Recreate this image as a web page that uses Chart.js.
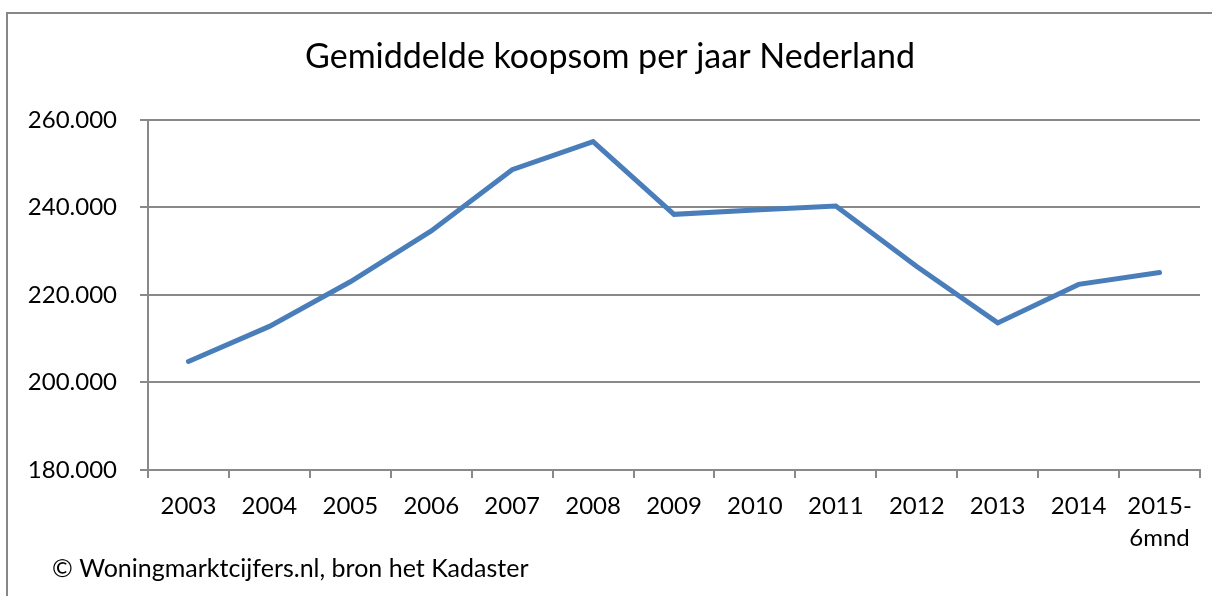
<!DOCTYPE html>
<html>
<head>
<meta charset="utf-8">
<script src="https://cdn.jsdelivr.net/npm/chart.js@4/dist/chart.umd.min.js"></script>
<style>
html,body{margin:0;padding:0;background:#fff;overflow:hidden;}
#wrap{position:absolute;left:0;top:0;width:1212px;height:596px;}
</style>
</head>
<body>
<div id="wrap"><canvas id="c" width="1212" height="596"></canvas></div>
<script>
const categories = ['2003','2004','2005','2006','2007','2008','2009','2010','2011','2012','2013','2014',['2015-','6mnd']];
const koopsom = [204800, 212800, 223000, 234600, 248600, 255000, 238400, 239400, 240300, 226500, 213600, 222400, 225100];
const yTicks = [180000, 200000, 220000, 240000, 260000];
const titleText = 'Gemiddelde koopsom per jaar Nederland';
const footnoteText = '\u00A9 Woningmarktcijfers.nl, bron het Kadaster';

const FONT = 'Lato, "Open Sans", sans-serif';
const GRID = '#898989';

function fmt(v){ return String(v).replace(/\B(?=(\d{3})+(?!\d))/g, '.'); }

const frame = {
  id: 'frame',
  beforeDraw(chart){
    const ctx = chart.ctx;
    ctx.save();
    ctx.strokeStyle = '#878787';
    ctx.lineWidth = 2;
    ctx.beginPath();
    ctx.moveTo(7, 596);
    ctx.lineTo(7, 13);
    ctx.lineTo(1212, 13);
    ctx.stroke();
    ctx.restore();
  },
  afterDraw(chart){
    const ctx = chart.ctx;
    ctx.save();
    ctx.fillStyle = '#000';
    ctx.font = '25px ' + FONT;
    ctx.textBaseline = 'alphabetic';
    ctx.textAlign = 'left';
    ctx.fillText(footnoteText, 52, 577);
    ctx.restore();
  }
};

new Chart(document.getElementById('c'), {
  type: 'line',
  data: {
    labels: categories,
    datasets: [{
      data: koopsom,
      borderColor: '#4A7EBB',
      borderWidth: 5,
      pointRadius: 0,
      tension: 0,
      fill: false,
      borderJoinStyle: 'miter',
      borderCapStyle: 'round'
    }]
  },
  options: {
    responsive: false,
    animation: false,
    devicePixelRatio: 1,
    layout: { padding: { left: 20, right: 12, top: 0, bottom: 0 } },
    plugins: {
      legend: { display: false },
      tooltip: { enabled: false },
      title: {
        display: true,
        text: titleText,
        color: '#000',
        font: { family: FONT, size: 34, weight: 'normal' },
        padding: { top: 37, bottom: 42 }
      }
    },
    scales: {
      x: {
        type: 'category',
        offset: true,
        afterFit(scale){ scale.height = 126; },
        grid: { offset: true, drawOnChartArea: false, drawTicks: true, tickLength: 8, color: GRID, lineWidth: 2 },
        border: { color: GRID, width: 2 },
        ticks: {
          color: '#000',
          font: { family: FONT, size: 24, lineHeight: 1.33 },
          maxRotation: 0, minRotation: 0, autoSkip: false, padding: 12
        }
      },
      y: {
        min: 180000,
        max: 260000,
        afterFit(scale){ scale.width = 128; },
        afterBuildTicks(scale){ scale.ticks = yTicks.map(v => ({ value: v })); },
        grid: { color: GRID, lineWidth: 2, drawTicks: true, tickLength: 8 },
        border: { color: GRID, width: 2 },
        ticks: {
          color: '#000',
          font: { family: FONT, size: 24 },
          padding: 23,
          callback: (v) => fmt(v)
        }
      }
    }
  },
  plugins: [frame]
});
</script>
</body>
</html>
